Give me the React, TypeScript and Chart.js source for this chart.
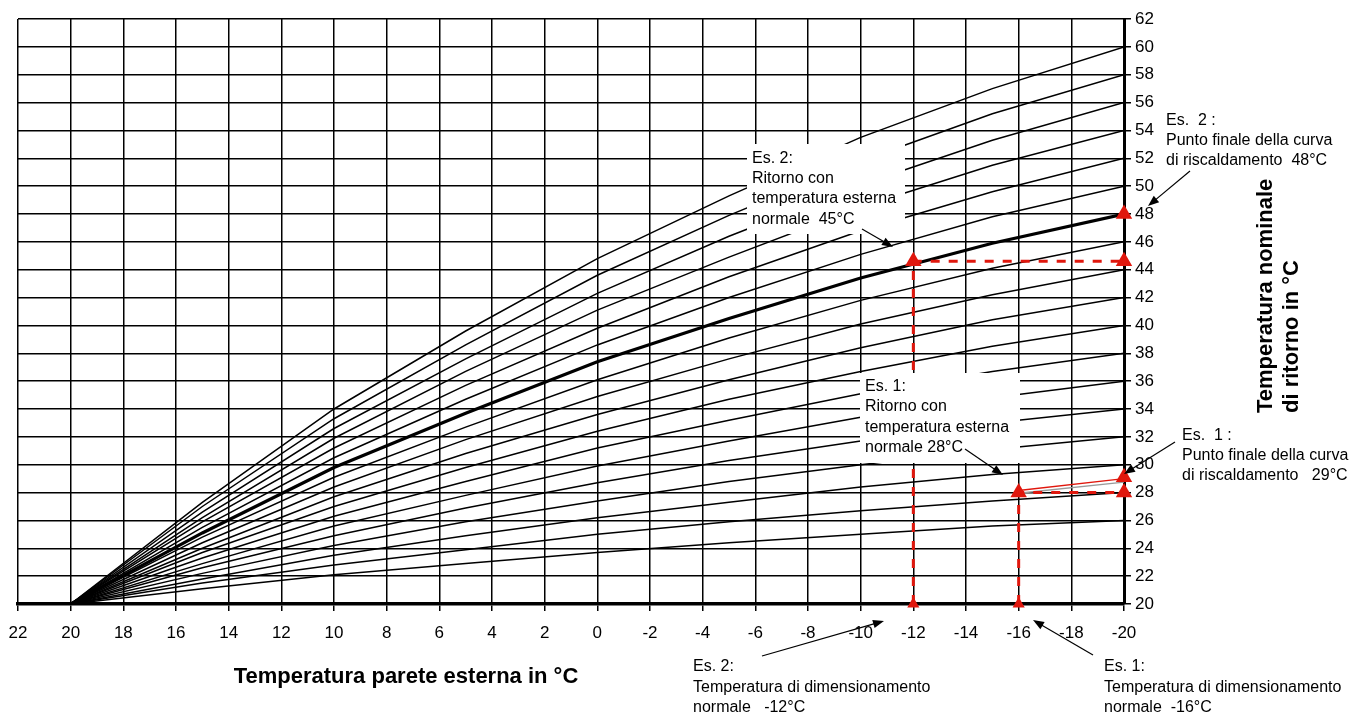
import React, { useEffect, useRef } from 'react';
import { Chart, registerables } from 'chart.js';

Chart.register(...registerables);

// ---------- data ----------
const outdoorTemps = [20, 15, 10, 5, 0, -5, -10, -15, -20];

const curve26 = [20, 21.1, 22.1, 22.9, 23.7, 24.4, 25.0, 25.6, 26];
const curve28 = [20, 21.5, 22.8, 23.9, 25.0, 25.9, 26.7, 27.4, 28];
const curve30 = [20, 21.8, 23.5, 24.9, 26.2, 27.3, 28.4, 29.3, 30];
const curve32 = [20, 22.2, 24.2, 25.9, 27.4, 28.8, 30.0, 31.1, 32];
const curve34 = [20, 22.6, 24.9, 26.9, 28.7, 30.3, 31.7, 33.0, 34];
const curve36 = [20, 22.9, 25.6, 27.8, 29.9, 31.7, 33.4, 34.8, 36];
const curve38 = [20, 23.3, 26.3, 28.8, 31.2, 33.2, 35.1, 36.7, 38];
const curve40 = [20, 23.7, 27.0, 29.8, 32.4, 34.7, 36.7, 38.5, 40];
const curve42 = [20, 24.0, 27.7, 30.8, 33.6, 36.1, 38.4, 40.4, 42];
const curve44 = [20, 24.4, 28.4, 31.8, 34.9, 37.6, 40.1, 42.2, 44];
const curve46 = [20, 24.8, 29.1, 32.7, 36.1, 39.1, 41.8, 44.1, 46];
const curve48 = [20, 25.1, 29.8, 33.7, 37.4, 40.5, 43.4, 45.9, 48];
const curve50 = [20, 25.5, 30.5, 34.7, 38.6, 42.0, 45.1, 47.8, 50];
const curve52 = [20, 25.9, 31.2, 35.7, 39.8, 43.5, 46.8, 49.6, 52];
const curve54 = [20, 26.2, 31.9, 36.7, 41.1, 44.9, 48.5, 51.5, 54];
const curve56 = [20, 26.6, 32.6, 37.6, 42.3, 46.4, 50.1, 53.3, 56];
const curve58 = [20, 27.0, 33.3, 38.6, 43.6, 47.9, 51.8, 55.2, 58];
const curve60 = [20, 27.3, 34.0, 39.6, 44.8, 49.3, 53.5, 57.0, 60];

const heatingCurves = [
  curve26, curve28, curve30, curve32, curve34, curve36, curve38, curve40, curve42,
  curve44, curve46, curve48, curve50, curve52, curve54, curve56, curve58, curve60,
];
const highlightedCurveIndex = 11; // curve ending at 48°C

// example 2: design temp -12°C, return 44.6°C, end point 48°C
const ex2PathX = [-12, -12, -20];
const ex2PathY = [20, 44.6, 44.6];
// example 1: design temp -16°C, return 28°C, end point 29°C
const ex1PathX = [-16, -16, -20];
const ex1PathY = [20, 28, 28];
const ex1CurveX = [-16, -20];
const ex1CurveY = [28.15, 29.0];
const ex1CurveShadowY = [27.95, 28.75];

const markerX = [-12, -12, -20, -20, -16, -20, -20, -16];
const markerY = [20, 44.6, 44.6, 48, 28, 28, 29.1, 20];
const markerSize = [7, 9.5, 9.5, 9.5, 9.5, 9.5, 9.5, 7];

const xMin = -20;
const xMax = 22;
const yMin = 20;
const yMax = 62;
const tickStep = 2;

const xTitle = 'Temperatura parete esterna in °C';
const yTitleLines = ['Temperatura nominale', 'di ritorno in °C'];

const box2Lines = ['Es. 2:', 'Ritorno con', 'temperatura esterna', 'normale  45°C'];
const box1Lines = ['Es. 1:', 'Ritorno con', 'temperatura esterna', 'normale 28°C'];
const right2Lines = ['Es.  2 :', 'Punto finale della curva', 'di riscaldamento  48°C'];
const right1Lines = ['Es.  1 :', 'Punto finale della curva', 'di riscaldamento   29°C'];
const bottom2Lines = ['Es. 2:', 'Temperatura di dimensionamento', 'normale   -12°C'];
const bottom1Lines = ['Es. 1:', 'Temperatura di dimensionamento', 'normale  -16°C'];

// ---------- styles ----------
const FONT = '"Liberation Sans", Arial, Helvetica, sans-serif';
const RED = '#e0170d';
const BLACK = '#000000';

const W = 1367;
const H = 716;

const toPoints = (xs: number[], ys: number[]) => xs.map((x, i) => ({ x, y: ys[i] }));

function drawArrow(ctx: CanvasRenderingContext2D, x1: number, y1: number, x2: number, y2: number) {
  const ang = Math.atan2(y2 - y1, x2 - x1);
  const len = 11;
  const half = 4.2;
  ctx.strokeStyle = BLACK;
  ctx.fillStyle = BLACK;
  ctx.lineWidth = 1.2;
  ctx.beginPath();
  ctx.moveTo(x1, y1);
  ctx.lineTo(x2 - Math.cos(ang) * len * 0.8, y2 - Math.sin(ang) * len * 0.8);
  ctx.stroke();
  ctx.beginPath();
  ctx.moveTo(x2, y2);
  ctx.lineTo(x2 - Math.cos(ang) * len - Math.sin(ang) * half, y2 - Math.sin(ang) * len + Math.cos(ang) * half);
  ctx.lineTo(x2 - Math.cos(ang) * len + Math.sin(ang) * half, y2 - Math.sin(ang) * len - Math.cos(ang) * half);
  ctx.closePath();
  ctx.fill();
}

function drawLines(ctx: CanvasRenderingContext2D, lines: string[], x: number, y: number, lh: number) {
  lines.forEach((l, i) => ctx.fillText(l, x, y + i * lh));
}

const annotationPlugin = {
  id: 'annotations',
  afterDatasetsDraw(chart: any) {
    const ctx: CanvasRenderingContext2D = chart.ctx;
    ctx.save();
    ctx.fillStyle = '#ffffff';
    ctx.fillRect(747, 144, 158, 90);
    ctx.fillRect(860, 373, 160, 90);
    ctx.restore();
  },
  afterDraw(chart: any) {
    const ctx: CanvasRenderingContext2D = chart.ctx;
    ctx.save();
    ctx.fillStyle = BLACK;
    ctx.textBaseline = 'alphabetic';
    ctx.textAlign = 'left';
    ctx.font = `16px ${FONT}`;
    drawLines(ctx, box2Lines, 752, 162.5, 20.4);
    drawLines(ctx, box1Lines, 865, 391, 20.4);
    drawLines(ctx, right2Lines, 1166, 124.5, 20);
    drawLines(ctx, right1Lines, 1182, 440, 20);
    drawLines(ctx, bottom2Lines, 693, 671, 20.5);
    drawLines(ctx, bottom1Lines, 1104, 671, 20.5);

    drawArrow(ctx, 862, 229, 893, 247);
    drawArrow(ctx, 965, 449, 1003, 475);
    drawArrow(ctx, 1190, 171, 1148, 206);
    drawArrow(ctx, 1175, 442, 1124, 474);
    drawArrow(ctx, 762, 656, 884, 621);
    drawArrow(ctx, 1093, 655, 1033, 620);

    // axis titles
    ctx.font = `bold 22px ${FONT}`;
    ctx.textAlign = 'center';
    ctx.textBaseline = 'middle';
    ctx.fillText(xTitle, 406, 677);

    ctx.save();
    ctx.translate(1266, 413);
    ctx.rotate(-Math.PI / 2);
    ctx.textAlign = 'left';
    ctx.textBaseline = 'middle';
    ctx.fillText(yTitleLines[0], 0, 0);
    ctx.fillText(yTitleLines[1], 0, 26);
    ctx.restore();

    ctx.restore();
  },
};

export default function App() {
  const canvasRef = useRef<HTMLCanvasElement | null>(null);

  useEffect(() => {
    document.body.style.margin = '0';
    const canvas = canvasRef.current;
    if (!canvas) return;

    const curveDatasets = heatingCurves.map((c, i) => ({
      data: toPoints(outdoorTemps, c),
      showLine: true,
      borderColor: BLACK,
      borderWidth: i === highlightedCurveIndex ? 3.2 : 1.5,
      pointRadius: 0,
      tension: 0,
      fill: false,
      order: 3,
    }));

    const chart = new Chart(canvas, {
      type: 'scatter',
      data: {
        datasets: [
          {
            data: toPoints(markerX, markerY),
            pointStyle: 'triangle',
            pointRadius: markerSize,
            pointBackgroundColor: RED,
            pointBorderColor: RED,
            pointBorderWidth: 0,
            showLine: false,
            clip: false,
            order: 0,
          } as any,
          {
            data: toPoints(ex2PathX, ex2PathY),
            showLine: true,
            borderColor: RED,
            borderWidth: 3,
            borderDash: [9, 9],
            pointRadius: 0,
            tension: 0,
            order: 1,
            clip: false,
          },
          {
            data: toPoints(ex1PathX, ex1PathY),
            showLine: true,
            borderColor: RED,
            borderWidth: 3,
            borderDash: [9, 9],
            pointRadius: 0,
            tension: 0,
            order: 1,
            clip: false,
          },
          {
            data: toPoints(ex1CurveX, ex1CurveY),
            showLine: true,
            borderColor: RED,
            borderWidth: 1.3,
            pointRadius: 0,
            tension: 0,
            order: 1,
            clip: false,
          },
          {
            data: toPoints(ex1CurveX, ex1CurveShadowY),
            showLine: true,
            borderColor: '#9a9a9a',
            borderWidth: 1.3,
            pointRadius: 0,
            tension: 0,
            order: 2,
            clip: false,
          },
          ...curveDatasets,
        ],
      },
      options: {
        responsive: false,
        animation: false,
        devicePixelRatio: 1,
        layout: { padding: { left: 18, top: 19, right: 0, bottom: 0 } },
        plugins: {
          legend: { display: false },
          tooltip: { enabled: false },
          title: { display: false },
        },
        scales: {
          x: {
            type: 'linear',
            min: xMin,
            max: xMax,
            reverse: true,
            ticks: {
              stepSize: tickStep,
              color: BLACK,
              font: { family: FONT, size: 17, lineHeight: 1.65 },
              padding: 8,
              maxRotation: 0,
              autoSkip: false,
            },
            grid: {
              color: BLACK,
              lineWidth: 1.5,
              tickLength: 7,
              tickColor: BLACK,
              tickWidth: 1.5,
            },
            border: { color: BLACK, width: 3.5 },
            afterFit: (scale: any) => {
              scale.height = H - 604;
            },
          },
          y: {
            type: 'linear',
            position: 'right',
            min: yMin,
            max: yMax,
            ticks: {
              stepSize: tickStep,
              color: BLACK,
              font: { family: FONT, size: 17 },
              padding: 4,
              autoSkip: false,
            },
            grid: {
              color: BLACK,
              lineWidth: 1.5,
              tickLength: 7,
              tickColor: BLACK,
              tickWidth: 1.5,
            },
            border: { color: BLACK, width: 3 },
            afterFit: (scale: any) => {
              scale.width = W - 1124;
            },
          },
        },
      },
      plugins: [annotationPlugin],
    } as any);

    return () => chart.destroy();
  }, []);

  return (
    <div style={{ width: W, height: H, background: '#fff' }}>
      <canvas ref={canvasRef} width={W} height={H} style={{ display: 'block' }} />
    </div>
  );
}
